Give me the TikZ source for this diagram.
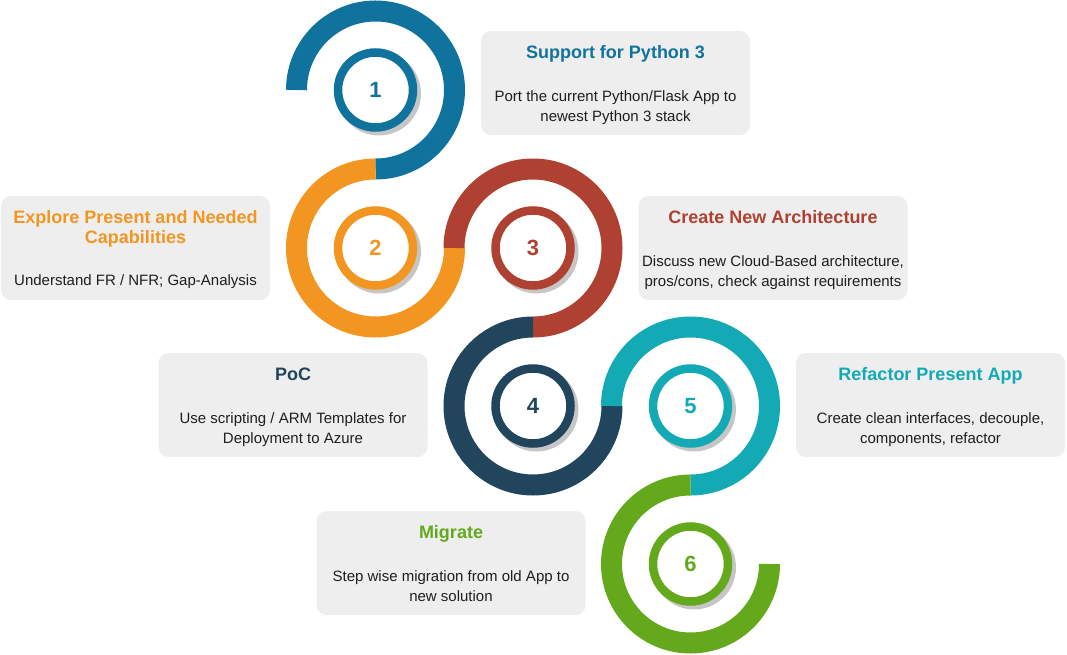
\documentclass[tikz,border=0pt]{standalone}
\usepackage{fontspec}
\setmainfont{Liberation Sans}
\definecolor{cblue}{HTML}{10739E}
\definecolor{corange}{HTML}{F39621}
\definecolor{cred}{HTML}{AF4133}
\definecolor{cnavy}{HTML}{21455C}
\definecolor{cteal}{HTML}{13AAB6}
\definecolor{cgreen}{HTML}{63A91B}
\definecolor{boxgray}{HTML}{EEEEEE}
\definecolor{shadowgray}{HTML}{C6C6C6}
\definecolor{bodytext}{HTML}{1E1E1E}
\begin{document}
\begin{tikzpicture}[x=1pt,y=1pt,
  band/.style={line width=21pt, line cap=butt},
  numring/.style={circle, draw=#1, line width=8.5pt, fill=white, minimum size=75pt,
    inner sep=0pt, text=#1, font=\fontsize{22}{22}\selectfont\bfseries},
  numshadow/.style={circle, fill=shadowgray, minimum size=84pt, inner sep=0pt},
  infobox/.style={rounded corners=10pt, fill=boxgray, minimum width=269pt,
    minimum height=104pt, inner sep=0pt},
  boxtitle/.style={anchor=base, text=#1, inner sep=0pt,
    font=\fontsize{18}{21}\selectfont\bfseries},
  boxbody/.style={anchor=base, text=bodytext, inner sep=0pt,
    font=\fontsize{15}{20}\selectfont}]
\useasboundingbox (0,0) rectangle (1067,654);

% numbered rings with their drop shadows
\foreach \i/\x/\y/\c in {1/375.5/564/cblue, 2/375.5/406/corange, 3/533/406/cred,
                         4/533/248/cnavy, 5/690.5/248/cteal, 6/690.5/90/cgreen}{
  \node[numshadow, xshift=3.5pt, yshift=-3.5pt] (s\i) at (\x,\y) {};
  \node[numring=\c] (n\i) at (\x,\y) {\i};
}

% the winding band, one three-quarter arc per step
\draw[band, cblue]   (n1.center) ++(-79,0) arc[start angle=180, end angle=-90, radius=79pt];
\draw[band, corange] (n2.center) ++(0,79)  arc[start angle=90,  end angle=360, radius=79pt];
\draw[band, cred]    (n3.center) ++(-79,0) arc[start angle=180, end angle=-90, radius=79pt];
\draw[band, cnavy]   (n4.center) ++(0,79)  arc[start angle=90,  end angle=360, radius=79pt];
\draw[band, cteal]   (n5.center) ++(-79,0) arc[start angle=180, end angle=-90, radius=79pt];
\draw[band, cgreen]  (n6.center) ++(0,79)  arc[start angle=90,  end angle=360, radius=79pt];

% step 1
\node[infobox] (b1) at (615.5,571) {};
\node[boxtitle=cblue] (t1) at ([yshift=-27.5pt]b1.north) {Support for Python 3};
\node[boxbody] (d1a) at ([yshift=-70.5pt]b1.north) {Port the current Python/Flask App to};
\node[boxbody] (d1b) at ([yshift=-90.5pt]b1.north) {newest Python 3 stack};

% step 2
\node[infobox] (b2) at (135.5,406) {};
\node[boxtitle=corange] (t2a) at ([yshift=-27.5pt]b2.north) {Explore Present and Needed};
\node[boxtitle=corange] (t2b) at ([yshift=-48pt]b2.north) {Capabilities};
\node[boxbody] (d2) at ([yshift=-90pt]b2.north) {Understand FR / NFR; Gap-Analysis};

% step 3
\node[infobox] (b3) at (773,406) {};
\node[boxtitle=cred] (t3) at ([yshift=-27.5pt]b3.north) {Create New Architecture};
\node[boxbody] (d3a) at ([yshift=-70.5pt]b3.north) {Discuss new Cloud-Based architecture,};
\node[boxbody] (d3b) at ([yshift=-90.5pt]b3.north) {pros/cons, check against requirements};

% step 4
\node[infobox] (b4) at (293,249) {};
\node[boxtitle=cnavy] (t4) at ([yshift=-27.5pt]b4.north) {PoC};
\node[boxbody] (d4a) at ([yshift=-70.5pt]b4.north) {Use scripting / ARM Templates for};
\node[boxbody] (d4b) at ([yshift=-90.5pt]b4.north) {Deployment to Azure};

% step 5
\node[infobox] (b5) at (930.5,249) {};
\node[boxtitle=cteal] (t5) at ([yshift=-27.5pt]b5.north) {Refactor Present App};
\node[boxbody] (d5a) at ([yshift=-70.5pt]b5.north) {Create clean interfaces, decouple,};
\node[boxbody] (d5b) at ([yshift=-90.5pt]b5.north) {components, refactor};

% step 6
\node[infobox] (b6) at (451,91) {};
\node[boxtitle=cgreen] (t6) at ([yshift=-27.5pt]b6.north) {Migrate};
\node[boxbody] (d6a) at ([yshift=-70.5pt]b6.north) {Step wise migration from old App to};
\node[boxbody] (d6b) at ([yshift=-90.5pt]b6.north) {new solution};
\end{tikzpicture}
\end{document}
